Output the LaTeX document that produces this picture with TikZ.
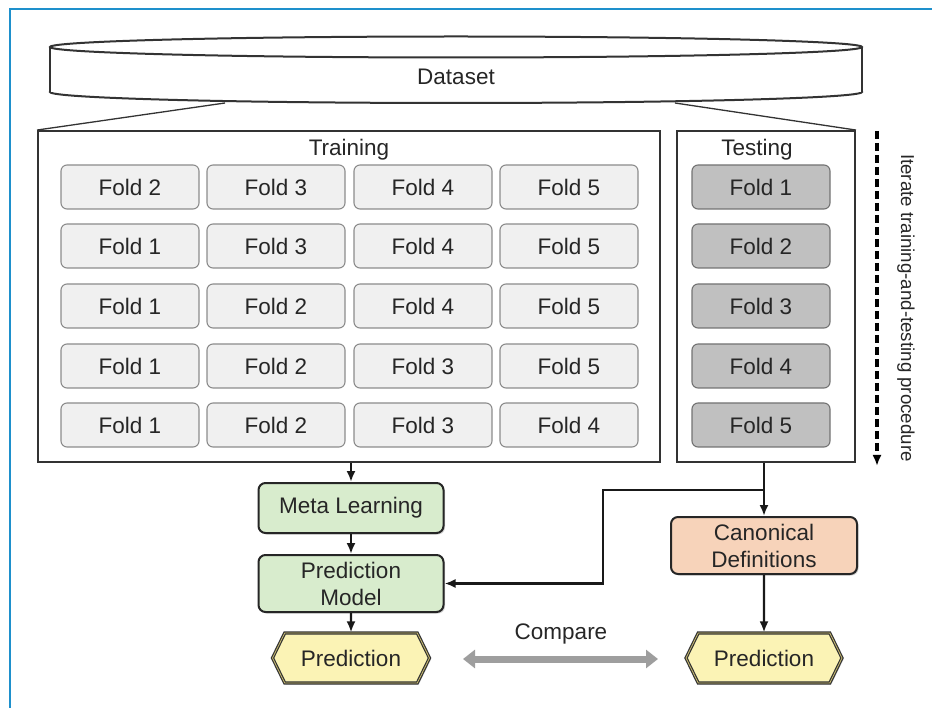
\documentclass[tikz,border=0pt]{standalone}
\usepackage{fontspec}
\setmainfont{Liberation Sans}
\usepackage{xcolor}
\usepackage{tikz}
\usetikzlibrary{arrows.meta,shapes.symbols,shadows}

\definecolor{frameblue}{RGB}{30,144,204}
\definecolor{foldgray}{RGB}{240,240,240}
\definecolor{testgray}{RGB}{192,192,192}
\definecolor{metagreen}{RGB}{216,236,205}
\definecolor{canonpeach}{RGB}{247,211,186}
\definecolor{predyellow}{RGB}{251,243,181}
\definecolor{predolive}{RGB}{200,186,110}

\begin{document}
\begin{tikzpicture}[x=1pt, y=-1pt,
  every node/.style={font=\fontsize{22.5}{26}\selectfont, text=black!85},
  fold/.style={rectangle, rounded corners=6pt, draw=black!45, line width=1.1pt, fill=foldgray, minimum width=138pt, minimum height=44pt},
  testfold/.style={fold, fill=testgray, draw=black!55},
  panel/.style={rectangle, draw=black!80, line width=1.9pt},
  stage/.style={rectangle, rounded corners=7pt, draw=black!85, line width=2pt, minimum width=185pt, align=center,
    drop shadow={opacity=0.35, shadow xshift=1.5pt, shadow yshift=-1.5pt}},
  outcome/.style={signal, signal to=east and west, signal pointer angle=128, draw=black!80, line width=1.2pt,
    double=predolive, double distance=0.8pt, fill=predyellow, minimum width=157pt, minimum height=50pt,
    drop shadow={opacity=0.3, shadow xshift=1.5pt, shadow yshift=-1.5pt}},
  arr/.style={-{Latex[length=11pt,width=9pt]}, line width=2.4pt, black!90}]
\useasboundingbox (0,0) rectangle (932,708);
\draw[frameblue, line width=2.6pt] (10,708) -- (10,9) -- (932,9);

% dataset cylinder
\draw[black!80, line width=2pt, fill=white] (456,92) ellipse [x radius=406, y radius=11];
\fill[white] (50,47) rectangle (862,92);
\draw[black!80, line width=2pt] (50,47) -- (50,92) (862,47) -- (862,92);
\draw[black!80, line width=2pt, fill=white] (456,47) ellipse [x radius=406, y radius=10.5];
\node (data) at (456,77) {Dataset};
\coordinate (dl) at (225,103);
\coordinate (dr) at (675,103);

% panels
\node[panel, minimum width=622pt, minimum height=331pt] (train) at (349,296.5) {};
\node[panel, minimum width=178pt, minimum height=331pt] (test) at (766,296.5) {};
\node (trainlbl) at (349,150) {Training};
\node (testlbl) at (757,150) {Testing};
\draw[black!80, line width=1.3pt] (dl) -- (train.north west);
\draw[black!80, line width=1.3pt] (dr) -- (test.north east);

\node[fold] (f11) at (130,187) {Fold 2}; \node[fold] (f12) at (276,187) {Fold 3};
\node[fold] (f13) at (423,187) {Fold 4}; \node[fold] (f14) at (569,187) {Fold 5};
\node[fold] (f21) at (130,246) {Fold 1}; \node[fold] (f22) at (276,246) {Fold 3};
\node[fold] (f23) at (423,246) {Fold 4}; \node[fold] (f24) at (569,246) {Fold 5};
\node[fold] (f31) at (130,306) {Fold 1}; \node[fold] (f32) at (276,306) {Fold 2};
\node[fold] (f33) at (423,306) {Fold 4}; \node[fold] (f34) at (569,306) {Fold 5};
\node[fold] (f41) at (130,366) {Fold 1}; \node[fold] (f42) at (276,366) {Fold 2};
\node[fold] (f43) at (423,366) {Fold 3}; \node[fold] (f44) at (569,366) {Fold 5};
\node[fold] (f51) at (130,425) {Fold 1}; \node[fold] (f52) at (276,425) {Fold 2};
\node[fold] (f53) at (423,425) {Fold 3}; \node[fold] (f54) at (569,425) {Fold 4};

\node[testfold] (s1) at (761,187) {Fold 1};
\node[testfold] (s2) at (761,246) {Fold 2};
\node[testfold] (s3) at (761,306) {Fold 3};
\node[testfold] (s4) at (761,366) {Fold 4};
\node[testfold] (s5) at (761,425) {Fold 5};

% iteration
\coordinate (itop) at (877,131);
\coordinate (ibot) at (877,466);
\draw[-{Latex[length=11pt,width=9pt]}, line width=3.2pt, dash pattern=on 8pt off 4pt] (itop) -- (ibot);
\node[rotate=-90, font=\fontsize{18.7}{22}\selectfont] (iter) at (906,308) {Iterate training-and-testing procedure};

% pipeline
\node[stage, fill=metagreen, minimum height=50pt] (meta) at (351,508) {Meta Learning};
\node[stage, fill=metagreen, minimum height=57pt] (model) at (351,583.5) {Prediction\\[1pt]Model};
\node[stage, fill=canonpeach, minimum height=57pt, minimum width=186pt] (canon) at (764,545.5) {Canonical\\[1pt]Definitions};
\node[outcome] (predl) at (351,658) {Prediction};
\node[outcome, minimum width=156pt] (predr) at (764,658) {Prediction};

\draw[arr] (meta.north |- train.south) -- (meta.north);
\draw[arr] (meta) -- (model);
\draw[arr] (model) -- (predl);
\draw[arr] (canon.north |- test.south) -- (canon.north);
\coordinate (junc) at (764,490);
\coordinate (bend) at (603,583.5);
\draw[arr] (junc) -| (bend) |- (model.east);
\draw[arr] (canon) -- (predr);

\node (cmp) at (561,634) {Compare};
\coordinate (cmpl) at (463,659);
\coordinate (cmpr) at (658,659);
\draw[black!38, line width=7pt, {Triangle[length=12pt,width=18pt]}-{Triangle[length=12pt,width=18pt]}] (cmpl) -- (cmpr);
\end{tikzpicture}
\end{document}
